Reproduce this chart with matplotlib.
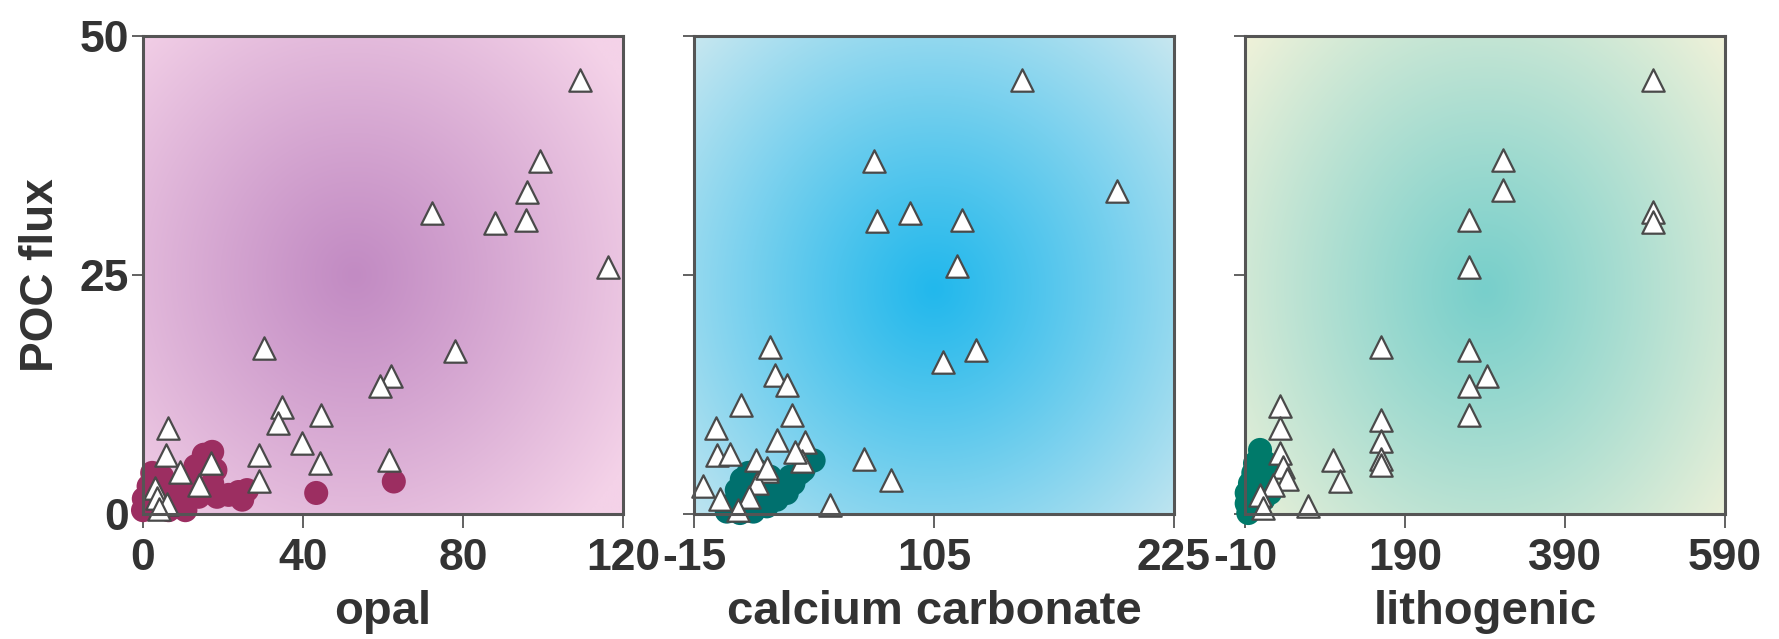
import numpy as np
import matplotlib
matplotlib.use("Agg")
import matplotlib.pyplot as plt
from matplotlib.colors import to_rgb

plt.rcParams['font.family'] = ['Liberation Sans', 'DejaVu Sans']
plt.rcParams['font.weight'] = 'bold'

# ---------------- data ----------------
poc_ticks = [0, 25, 50]

opal_ticks = [0, 40, 80, 120]
opal_tri_x = [109.3, 99.3, 96.0, 95.8, 88.0, 72.3, 116.2, 30.2, 78.0, 62.0, 59.3, 34.7, 33.7,
              44.5, 39.8, 6.2, 5.8, 28.9, 17.0, 44.3, 61.4, 9.2, 28.9, 13.9, 3.0, 3.5, 6.0, 4.0]
opal_tri_y = [45.4, 36.9, 33.7, 30.8, 30.4, 31.5, 25.8, 17.4, 17.0, 14.4, 13.4, 11.2, 9.5,
              10.4, 7.4, 9.0, 6.2, 6.2, 5.3, 5.3, 5.6, 4.4, 3.4, 3.0, 2.7, 1.7, 1.0, 0.5]
opal_dot_x = [0.0, 2.3, 1.4, 4.8, 7.3, 8.9, 6.4, 10.6, 11.4, 13.1, 15.2, 17.3, 18.1, 17.3,
              18.5, 21.4, 23.9, 26.0, 24.8, 13.9, 3.1, 0.2, 43.3, 62.7]
opal_dot_y = [0.4, 4.3, 2.9, 3.9, 2.9, 1.5, 0.4, 0.4, 2.9, 5.0, 6.2, 6.5, 4.6, 3.2,
              1.8, 2.0, 2.3, 2.5, 1.5, 1.8, 1.1, 1.6, 2.2, 3.4]

caco3_ticks = [-15, 105, 225]
caco3_tri_x = [149.2, 74.8, 196.3, 93.2, 76.5, 118.8, 116.6, 23.1, 126.1, 109.4, 25.6, 31.4,
               8.5, 34.2, -4.1, 26.4, 40.6, -3.6, 3.0, 16.1, 69.8, 39.0, 21.7, 83.7, -10.3,
               16.4, -2.0, 12.7, 6.9, 53.1, 35.6, 21.4]
caco3_tri_y = [45.4, 36.9, 33.8, 31.5, 30.6, 30.8, 25.9, 17.5, 17.2, 15.9, 14.5, 13.5,
               11.4, 10.4, 9.0, 7.7, 7.5, 6.2, 6.3, 5.6, 5.8, 5.5, 4.5, 3.6, 2.9,
               3.2, 1.6, 1.8, 0.4, 0.9, 6.5, 4.8]
caco3_dot_x = [1.4, 8.0, 14.7, 21.4, 26.4, 31.4, 34.7, 38.1, 41.5, 44.8, 6.4, 8.9, 12.2,
               16.4, 23.1, 28.1, 33.1, 39.8, 24.7, 18.1, 9.7, 4.7]
caco3_dot_y = [0.25, 0.1, 0.25, 0.8, 1.5, 2.2, 3.2, 4.3, 5.3, 5.6, 2.5, 3.6, 4.3,
               4.6, 3.9, 2.9, 3.9, 4.6, 1.8, 1.1, 1.5, 1.1]

litho_ticks = [-10, 190, 390, 590]
litho_tri_x = [500.4, 312.9, 312.9, 500.4, 500.4, 270.4, 270.4, 160.0, 270.4, 292.1, 270.4,
               270.4, 33.8, 33.8, 160.0, 160.0, 160.0, 160.0, 100.4, 108.8, 69.2, 33.8,
               37.9, 42.1, 25.4, 8.8, 12.9]
litho_tri_y = [45.4, 37.0, 33.9, 31.6, 30.5, 30.8, 25.8, 17.5, 17.2, 14.4, 13.4,
               10.4, 11.3, 9.0, 9.8, 7.6, 5.8, 5.1, 5.7, 3.5, 0.8, 6.4,
               4.9, 3.7, 3.0, 2.0, 0.6]
litho_dot_x = [8.8, 2.5, 0.4, -3.8, -7.9, -7.9, -5.9, 17.1, 15.0, 21.3, 12.9, 4.6, 8.8]
litho_dot_y = [6.0, 5.3, 4.3, 3.2, 2.2, 1.1, 0.1, 5.3, 3.6, 2.2, 1.5, 2.5, 6.7]

panels = [
    dict(label="opal", xlim=(0, 120), ticks=opal_ticks, tx=opal_tri_x, ty=opal_tri_y,
         dx=opal_dot_x, dy=opal_dot_y, dot="#9C2E61",
         center="#C28BC3", edge="#F4D2E8", c=(0.44, 0.50), r=(0.75, 0.80)),
    dict(label="calcium carbonate", xlim=(-15, 225), ticks=caco3_ticks, tx=caco3_tri_x,
         ty=caco3_tri_y, dx=caco3_dot_x, dy=caco3_dot_y, dot="#00706E",
         center="#22B8EC", edge="#CBE8F0", c=(0.50, 0.47), r=(0.80, 0.85)),
    dict(label="lithogenic", xlim=(-10, 590), ticks=litho_ticks, tx=litho_tri_x,
         ty=litho_tri_y, dx=litho_dot_x, dy=litho_dot_y, dot="#007A6A",
         center="#78CFCB", edge="#F8F4DA", c=(0.50, 0.47), r=(0.78, 0.95)),
]

W, H = 1779, 639
fig = plt.figure(figsize=(W / 100, H / 100), dpi=100)
lefts = [143, 694, 1245]
ax_w, ax_b, ax_t = 480, 514, 36
ink = "#333333"

for i, p in enumerate(panels):
    ax = fig.add_axes([lefts[i] / W, (H - ax_b) / H, ax_w / W, (ax_b - ax_t) / H])
    x0, x1 = p["xlim"]
    # radial gradient background
    n = 300
    u, v = np.meshgrid(np.linspace(0, 1, n), np.linspace(0, 1, n))
    d = np.sqrt(((u - p["c"][0]) / p["r"][0]) ** 2 + ((v - p["c"][1]) / p["r"][1]) ** 2)
    t = np.clip(d / 0.9, 0, 1) ** 1.1
    c0 = np.array(to_rgb(p["center"]))
    c1 = np.array(to_rgb(p["edge"]))
    img = c0[None, None, :] * (1 - t[..., None]) + c1[None, None, :] * t[..., None]
    ax.imshow(img, extent=(x0, x1, 0, 50), origin="lower", aspect="auto", zorder=0,
              interpolation="bilinear")
    ax.set_xlim(x0, x1)
    ax.set_ylim(0, 50)

    ax.scatter(p["dx"], p["dy"], s=300, color=p["dot"], edgecolors="none", zorder=3,
               clip_on=False)
    ax.scatter(p["tx"], p["ty"], s=260, marker="^", facecolor="white",
               edgecolors="#4a4a4a", linewidths=1.6, zorder=4, clip_on=False)

    ax.set_xticks(p["ticks"])
    ax.set_xticklabels([str(k) for k in p["ticks"]])
    ax.set_yticks(poc_ticks)
    if i == 0:
        ax.set_yticklabels([str(k) for k in poc_ticks])
        ax.set_ylabel("POC flux", fontsize=33, fontweight="bold", color=ink, labelpad=12)
    else:
        ax.set_yticklabels([])
    ax.tick_params(axis="x", direction="out", length=10, width=1.3, color="#555555",
                   labelsize=32, labelcolor=ink, pad=7)
    ax.tick_params(axis="y", direction="out", length=8, width=1.3, color="#555555",
                   labelsize=32, labelcolor=ink, pad=2)
    for lab in ax.get_xticklabels() + ax.get_yticklabels():
        lab.set_fontweight("bold")
    ax.set_xlabel(p["label"], fontsize=34, fontweight="bold", color=ink, labelpad=8)
    for s in ax.spines.values():
        s.set_color("#555555")
        s.set_linewidth(2.2)
        s.set_zorder(5)

fig.savefig("out.png", dpi=100, facecolor="white")
